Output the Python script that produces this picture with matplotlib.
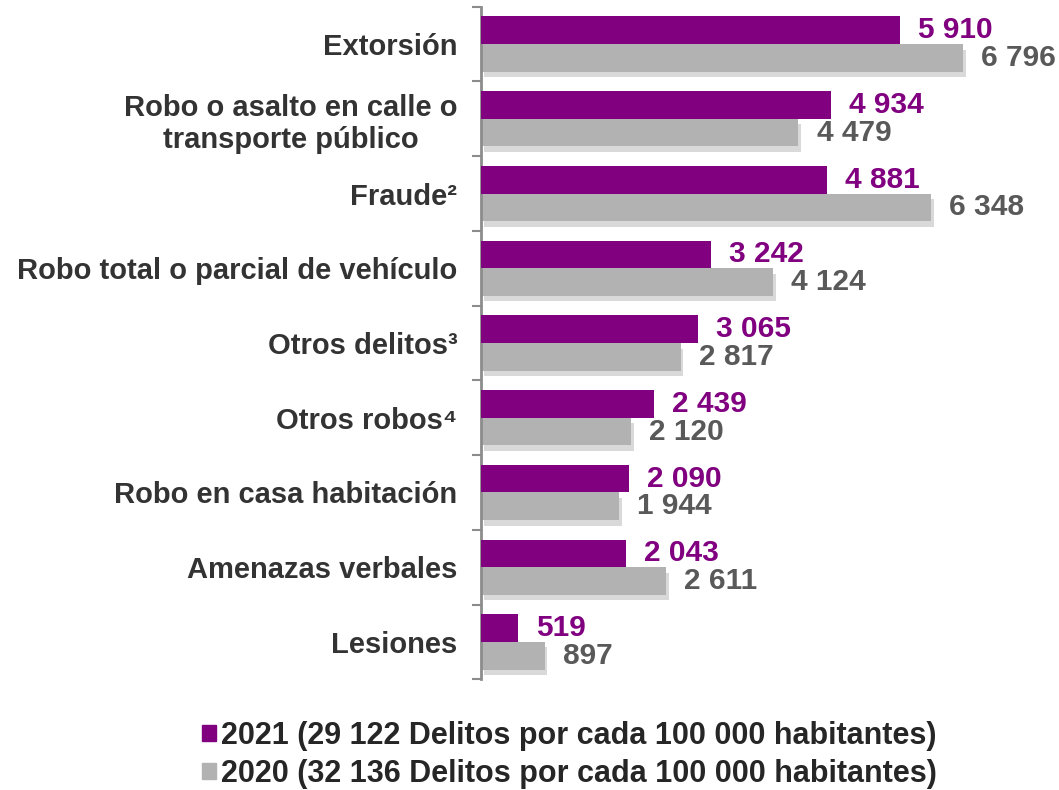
import matplotlib.pyplot as plt
import matplotlib.patheffects as pe
from matplotlib.patches import Patch
import numpy as np

plt.rcParams['font.family'] = ['Liberation Sans', 'DejaVu Sans']

# data
categorias = [
    'Extorsión',
    'Robo o asalto en calle o\ntransporte público',
    'Fraude²',
    'Robo total o parcial de vehículo',
    'Otros delitos³',
    'Otros robos⁴',
    'Robo en casa habitación',
    'Amenazas verbales',
    'Lesiones',
]
valores_2021 = [5910, 4934, 4881, 3242, 3065, 2439, 2090, 2043, 519]
valores_2020 = [6796, 4479, 6348, 4124, 2817, 2120, 1944, 2611, 897]
leyenda = [
    '2021 (29 122 Delitos por cada 100 000 habitantes)',
    '2020 (32 136 Delitos por cada 100 000 habitantes)',
]

morado = '#800080'
gris = '#b2b2b2'


def fmt(v):
    return f'{v:,}'.replace(',', ' ')


fig = plt.figure(figsize=(10.59, 7.9), dpi=100)
ax = fig.add_axes([481 / 1059, 1 - 679.3 / 790, 560 / 1059, 672.6 / 790])

y = np.arange(len(categorias))
h = 0.37
sombra = [pe.SimplePatchShadow(offset=(2, -4), shadow_rgbFace='#a0a0a0', alpha=0.4), pe.Normal()]

ax.barh(y - h / 2, valores_2021, height=h, color=morado, zorder=3)
ax.barh(y + h / 2, valores_2020, height=h, color=gris, zorder=2, path_effects=sombra)

for yi, v in zip(y, valores_2021):
    ax.annotate(fmt(v), (v, yi - h / 2), xytext=(13, 0), textcoords='offset points',
                va='center', ha='left', fontsize=21.5, fontweight='bold', color=morado)
for yi, v in zip(y, valores_2020):
    ax.annotate(fmt(v), (v, yi + h / 2), xytext=(13, 0), textcoords='offset points',
                va='center', ha='left', fontsize=21.5, fontweight='bold', color='#595959')

ax.set_xlim(0, 7900)
ax.set_ylim(len(categorias) - 0.5, -0.5)

# boundary ticks on the axis, labels at category centres
ax.set_yticks(np.arange(len(categorias) + 1) - 0.5)
ax.set_yticklabels([])
ax.set_yticks(y, minor=True)
ax.set_yticklabels(categorias, minor=True, fontsize=21, fontweight='bold',
                   color='#333333', multialignment='center')
ax.tick_params(axis='y', which='major', length=6.5, width=1.5, color='#8c8c8c')
ax.tick_params(axis='y', which='minor', length=0, pad=17)

ax.xaxis.set_visible(False)
for s in ['top', 'right', 'bottom']:
    ax.spines[s].set_visible(False)
ax.spines['left'].set_color('#8c8c8c')
ax.spines['left'].set_linewidth(2)

handles = [Patch(color=morado), Patch(color=gris)]
fig.legend(handles, leyenda, loc='upper left', bbox_to_anchor=(202 / 1059, 1 - 721 / 790),
           frameon=False, prop={'size': 22, 'weight': 'bold'}, labelcolor='#262626',
           handlelength=0.45, handleheight=0.45, handletextpad=0.18, labelspacing=0.25,
           borderpad=0, borderaxespad=0)

fig.savefig('out.png', dpi=100)
